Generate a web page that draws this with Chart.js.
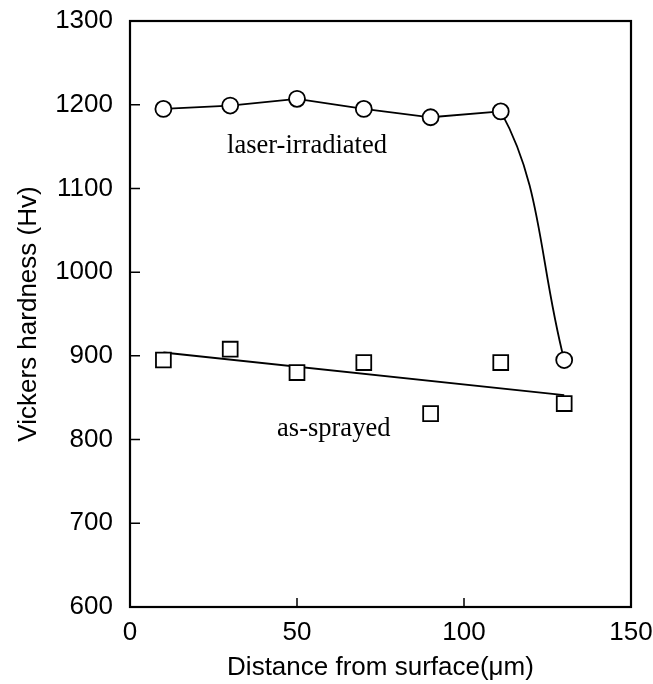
<!DOCTYPE html>
<html>
<head>
<meta charset="utf-8">
<script src="https://cdn.jsdelivr.net/npm/chart.js@4/dist/chart.umd.min.js"></script>
<style>
html,body{margin:0;padding:0;background:#fff;}
#wrap{width:653px;height:684px;position:relative;}
</style>
</head>
<body>
<div id="wrap"><canvas id="c" width="653" height="684"></canvas></div>
<script>
// ---- data ----
const depthPoints = [10, 30, 50, 70, 90, 111, 130];
const laserIrradiated = [1195, 1199, 1207, 1195, 1185, 1192, 895];
const asSprayed = [895, 908, 880, 892, 831, 892, 843];
const asSprayedTrendX = [10, 130];
const asSprayedTrendY = [904, 853];
const xTicks = [0, 50, 100, 150];
const yTicks = [600, 700, 800, 900, 1000, 1100, 1200, 1300];
const annotations = [
  {text: 'laser-irradiated', x: 53, y: 1142},
  {text: 'as-sprayed', x: 61, y: 804}
];

const sansFont = {family: '"Liberation Sans", Arial, sans-serif', size: 26};
const hidden = 'rgba(0,0,0,0)';
const nLaser = depthPoints.length;

const framePlugin = {
  id: 'frame',
  afterDatasetsDraw(chart) {
    const {ctx, chartArea: a, scales} = chart;
    ctx.save();
    ctx.strokeStyle = '#000';
    ctx.lineWidth = 1.5;
    ctx.beginPath();
    yTicks.forEach(v => {
      if (v === yTicks[0] || v === yTicks[yTicks.length - 1]) return;
      const py = scales.y.getPixelForValue(v);
      ctx.moveTo(a.left, py); ctx.lineTo(a.left + 10, py);
    });
    xTicks.forEach(v => {
      if (v === xTicks[0] || v === xTicks[xTicks.length - 1]) return;
      const px = scales.x.getPixelForValue(v);
      ctx.moveTo(px, a.bottom); ctx.lineTo(px, a.bottom - 9);
    });
    ctx.stroke();
    ctx.lineWidth = 2.2;
    ctx.strokeRect(a.left, a.top, a.right - a.left, a.bottom - a.top);
    ctx.fillStyle = '#000';
    ctx.font = '26.5px "Liberation Serif", "Times New Roman", serif';
    ctx.textAlign = 'center';
    ctx.textBaseline = 'alphabetic';
    annotations.forEach(t => {
      ctx.fillText(t.text, scales.x.getPixelForValue(t.x), scales.y.getPixelForValue(t.y));
    });
    ctx.restore();
  }
};

new Chart(document.getElementById('c'), {
  type: 'scatter',
  data: {
    datasets: [
      {
        label: 'laser-irradiated',
        data: depthPoints.map((x, i) => ({x, y: laserIrradiated[i]})),
        showLine: true,
        tension: 0,
        borderColor: '#000',
        borderWidth: 1.8,
        segment: {borderColor: c => c.p0DataIndex === nLaser - 2 ? hidden : '#000'},
        pointStyle: 'circle',
        pointRadius: 8,
        pointBorderWidth: 1.8,
        pointBackgroundColor: '#fff',
        pointBorderColor: '#000',
        order: 0
      },
      {
        label: 'laser-irradiated drop',
        data: depthPoints.slice(nLaser - 3).map((x, i) => ({x, y: laserIrradiated[nLaser - 3 + i]})),
        showLine: true,
        tension: 0.4,
        borderColor: '#000',
        borderWidth: 1.8,
        segment: {borderColor: c => c.p0DataIndex === 0 ? hidden : '#000'},
        pointRadius: 0,
        order: 3
      },
      {
        label: 'as-sprayed',
        data: depthPoints.map((x, i) => ({x, y: asSprayed[i]})),
        showLine: false,
        pointStyle: 'rect',
        pointRadius: 10.5,
        pointBorderWidth: 1.8,
        pointBackgroundColor: '#fff',
        pointBorderColor: '#000',
        order: 1
      },
      {
        label: 'as-sprayed trend',
        data: asSprayedTrendX.map((x, i) => ({x, y: asSprayedTrendY[i]})),
        showLine: true,
        borderColor: '#000',
        borderWidth: 1.8,
        pointRadius: 0,
        order: 2
      }
    ]
  },
  options: {
    responsive: false,
    animation: false,
    layout: {padding: {top: 21, right: 22, left: 0, bottom: 0}},
    plugins: {legend: {display: false}, tooltip: {enabled: false}},
    scales: {
      x: {
        type: 'linear',
        min: 0, max: 150,
        afterBuildTicks(s) { s.ticks = xTicks.map(v => ({value: v})); },
        afterFit(s) { s.height = 77; s.paddingLeft = 0; s.paddingRight = 0; },
        grid: {display: false, drawTicks: false},
        border: {display: false},
        ticks: {color: '#000', font: sansFont, padding: 10, maxRotation: 0, callback: v => String(v)},
        title: {display: true, text: 'Distance from surface(\u03bcm)', color: '#000', font: sansFont, padding: {top: 0, bottom: 1}}
      },
      y: {
        type: 'linear',
        min: 600, max: 1300,
        afterBuildTicks(s) { s.ticks = yTicks.map(v => ({value: v})); },
        afterFit(s) { s.width = 130; s.paddingTop = 0; s.paddingBottom = 0; },
        grid: {display: false, drawTicks: false},
        border: {display: false},
        ticks: {color: '#000', font: sansFont, padding: 17, callback: v => String(v)},
        title: {display: true, text: 'Vickers hardness (Hv)', color: '#000', font: sansFont, padding: {top: 13, bottom: 0}}
      }
    }
  },
  plugins: [framePlugin]
});
</script>
</body>
</html>
